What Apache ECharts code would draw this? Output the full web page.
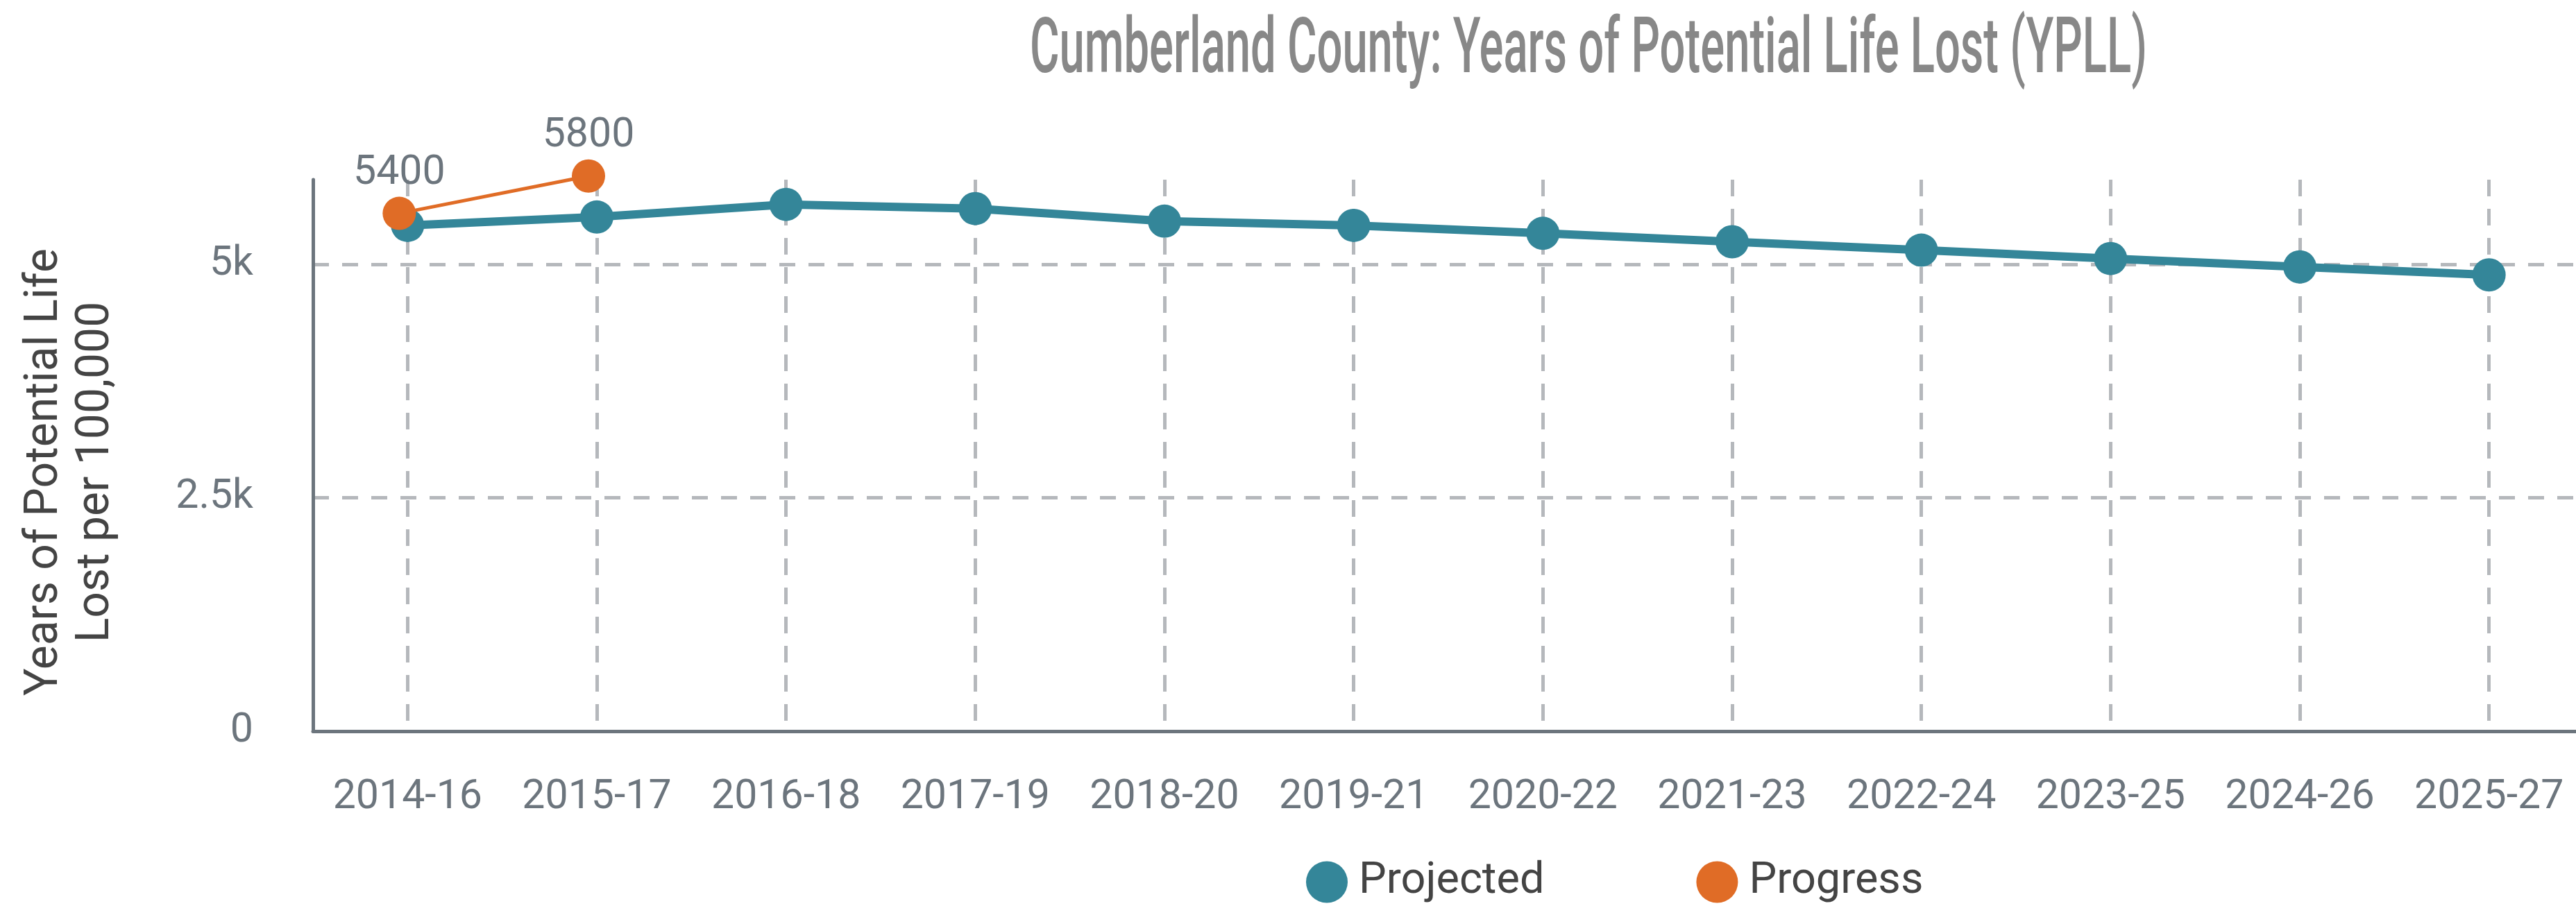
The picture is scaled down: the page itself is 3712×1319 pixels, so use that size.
<!DOCTYPE html>
<html>
<head>
<meta charset="utf-8">
<title>Cumberland County: Years of Potential Life Lost (YPLL)</title>
<script src="https://cdn.jsdelivr.net/npm/echarts@6/dist/echarts.min.js"></script>
<style>
  html, body { margin: 0; padding: 0; background: #fff; }
  #chart { width: 3712px; height: 1319px; }
</style>
</head>
<body>
<div id="chart"></div>
<script>
// data
const titleText = 'Cumberland County: Years of Potential Life Lost (YPLL)';
const periods = ['2014-16', '2015-17', '2016-18', '2017-19', '2018-20', '2019-21',
                 '2020-22', '2021-23', '2022-24', '2023-25', '2024-26', '2025-27'];
const projected = [5420, 5510, 5645, 5600, 5465, 5420, 5335, 5245, 5155, 5065, 4975, 4890];
const progress = [5400, 5800];
const yMax = 5910;
const yStep = 2500;

const teal = '#348699';
const orange = '#e06c26';
const grey = '#6c757d';
const gridGrey = '#b5b8bc';
const titleFont = '500 112px Roboto';

// title face is very condensed: squeeze Roboto to the same width
function titleScale() {
    const ctx = document.createElement('canvas').getContext('2d');
    ctx.font = titleFont;
    return 1610 / ctx.measureText(titleText).width;
}

const chart = echarts.init(document.getElementById('chart'));

chart.setOption({
    animation: false,
    backgroundColor: '#fff',
    graphic: [{
        type: 'text',
        x: 2289,
        y: 76,
        scaleX: titleScale(),
        style: {
            text: titleText,
            font: titleFont,
            fill: '#888888',
            align: 'center',
            verticalAlign: 'middle'
        }
    }],
    legend: {
        data: ['Projected', 'Progress'],
        icon: 'circle',
        left: 1877,
        top: 1235,
        itemWidth: 60,
        itemHeight: 60,
        itemGap: 219,
        textStyle: {
            fontFamily: 'Roboto',
            fontSize: 63,
            color: '#444444',
            padding: [0, 0, 0, 11]
        }
    },
    grid: [
        { left: 451, top: 259, width: 3272, height: 795, outerBoundsMode: 'none' },
        // the Progress layer sits slightly up and left in the source
        { left: 439, top: 239, width: 3272, height: 795, outerBoundsMode: 'none' }
    ],
    xAxis: [{
        type: 'category',
        gridIndex: 0,
        data: periods,
        boundaryGap: true,
        axisLine: { lineStyle: { color: grey, width: 5 } },
        axisTick: { show: false },
        axisLabel: {
            margin: 67,
            color: grey,
            fontFamily: 'Roboto',
            fontSize: 59,
            interval: 0
        },
        splitLine: {
            show: true,
            alignWithLabel: true,
            lineStyle: { color: gridGrey, width: 5, type: [24, 18] }
        }
    }, {
        type: 'category',
        gridIndex: 1,
        data: periods,
        boundaryGap: true,
        show: false
    }],
    yAxis: [{
        type: 'value',
        gridIndex: 0,
        min: 0,
        max: yMax,
        interval: yStep,
        name: 'Years of Potential Life\nLost per 100,000',
        nameLocation: 'middle',
        nameRotate: 90,
        nameGap: 275,
        nameTextStyle: {
            fontFamily: 'Roboto',
            fontSize: 66,
            lineHeight: 74,
            color: '#444444',
            padding: [0, 48, 0, 0]
        },
        axisLine: { show: true, lineStyle: { color: grey, width: 5 } },
        axisTick: { show: false },
        axisLabel: {
            margin: 86,
            color: grey,
            fontFamily: 'Roboto',
            fontSize: 59,
            showMaxLabel: false,
            formatter: v => v === 0 ? '0' : (v / 1000) + 'k'
        },
        splitLine: {
            show: true,
            showMinLine: false,
            showMaxLine: false,
            lineStyle: { color: gridGrey, width: 5, type: [23, 19] }
        }
    }, {
        type: 'value',
        gridIndex: 1,
        min: 0,
        max: yMax,
        show: false
    }],
    series: [{
        name: 'Projected',
        type: 'line',
        xAxisIndex: 0,
        yAxisIndex: 0,
        data: projected,
        symbol: 'circle',
        symbolSize: 48,
        color: teal,
        itemStyle: { color: teal },
        lineStyle: { color: teal, width: 12 },
        z: 2
    }, {
        name: 'Progress',
        type: 'line',
        xAxisIndex: 1,
        yAxisIndex: 1,
        data: progress,
        symbol: 'circle',
        symbolSize: 48,
        color: orange,
        itemStyle: { color: orange },
        lineStyle: { color: orange, width: 5 },
        clip: false,
        label: {
            show: true,
            position: 'top',
            distance: 4,
            color: grey,
            fontFamily: 'Roboto',
            fontSize: 59
        },
        z: 3
    }]
});
</script>
</body>
</html>
